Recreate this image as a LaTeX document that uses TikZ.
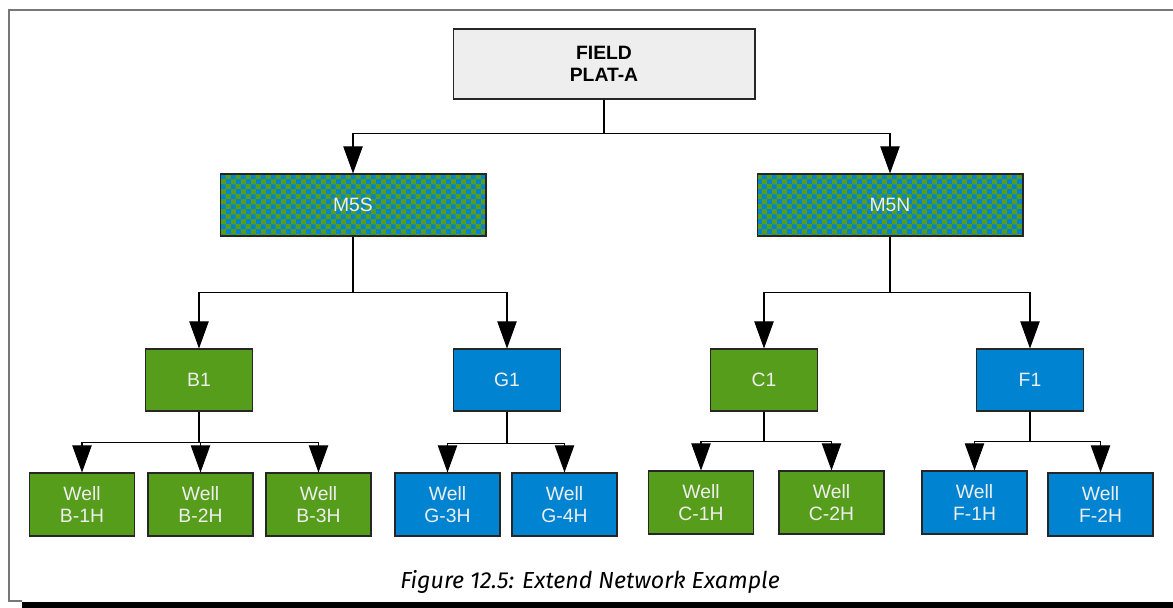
\documentclass[tikz,border=0pt]{standalone}
\usepackage{fontspec}
\usepackage{tikz}
\usetikzlibrary{arrows.meta, patterns}
\newfontfamily\boxfont{Liberation Sans}
\newfontfamily\capfont{Fira Sans}
\definecolor{wellgreen}{HTML}{579D1C}
\definecolor{wellblue}{HTML}{0084D1}
\definecolor{boxtext}{HTML}{EEEEEE}
\definecolor{fieldgray}{HTML}{EEEEEE}
\definecolor{framegray}{HTML}{777777}
\pgfdeclarepatternformonly{chequer}{\pgfpointorigin}{\pgfqpoint{5.6pt}{5.6pt}}{\pgfqpoint{5.6pt}{5.6pt}}{%
  \pgfpathrectangle{\pgfpointorigin}{\pgfqpoint{2.8pt}{2.8pt}}%
  \pgfpathrectangle{\pgfqpoint{2.8pt}{2.8pt}}{\pgfqpoint{2.8pt}{2.8pt}}%
  \pgfusepath{fill}}

\begin{document}
\begin{tikzpicture}[x=0.02cm, y=-0.02cm,
    box/.style={draw=black!85, line width=0.6pt, text=boxtext, align=center, inner sep=0pt,
                font=\boxfont\fontsize{11}{12.35}\selectfont},
    fieldbox/.style={box, fill=fieldgray, text=black, font=\boxfont\bfseries\fontsize{11}{12.35}\selectfont,
                     minimum width=6.04cm, minimum height=1.4cm},
    manifold/.style={box, preaction={fill=wellgreen}, pattern=chequer, pattern color=wellblue,
                     minimum width=5.32cm, minimum height=1.24cm},
    groupbox/.style={box, minimum width=2.14cm, minimum height=1.24cm},
    wellbox/.style={box, minimum width=2.1cm, minimum height=1.26cm},
    link/.style={black, line width=0.6pt, -{Triangle[length=15.4pt, width=11pt]}}]
                \useasboundingbox (0,0) rectangle (1173,608);
                \draw[framegray, line width=1.2pt] (1173,10) -- (9,10) -- (9,601) -- (22,601);
                \fill[black] (22,602) rectangle (1173,608);
                \node[fieldbox] (field) at (604,64) {FIELD\\PLAT-A};
                \node[manifold] (mfs) at (353,205) {M5S};
                \node[manifold] (mfn) at (890,205) {M5N};
                \node[groupbox, fill=wellgreen] (b1) at (199,380) {B1};
                \node[groupbox, fill=wellblue] (g1) at (507,380) {G1};
                \node[groupbox, fill=wellgreen] (c1) at (764,380) {C1};
                \node[groupbox, fill=wellblue] (f1) at (1030,380) {F1};
                \node[wellbox, fill=wellgreen] (wb1) at (82,504.5) {Well\\B-1H};
                \node[wellbox, fill=wellgreen] (wb2) at (200.5,504.5) {Well\\B-2H};
                \node[wellbox, fill=wellgreen] (wb3) at (318.5,504.5) {Well\\B-3H};
                \node[wellbox, fill=wellblue] (wg3) at (447.5,504.5) {Well\\G-3H};
                \node[wellbox, fill=wellblue] (wg4) at (564.5,504.5) {Well\\G-4H};
                \node[wellbox, fill=wellgreen] (wc1) at (701,502.5) {Well\\C-1H};
                \node[wellbox, fill=wellgreen] (wc2) at (831.5,502.5) {Well\\C-2H};
                \node[wellbox, fill=wellblue] (wf1) at (974.5,502.5) {Well\\F-1H};
                \node[wellbox, fill=wellblue] (wf2) at (1100.5,504.5) {Well\\F-2H};
                \draw[link] (field.south) -- ++(0,34) -| (mfs.north);
                \draw[link] (field.south) -- ++(0,34) -| (mfn.north);
                \draw[link] (mfs.south) -- ++(0,56) -| (b1.north);
                \draw[link] (mfs.south) -- ++(0,56) -| (g1.north);
                \draw[link] (mfn.south) -- ++(0,56) -| (c1.north);
                \draw[link] (mfn.south) -- ++(0,56) -| (f1.north);
                \draw[link] (b1.south) -- ++(0,31) -| (wb1.north);
                \draw[link] (b1.south) -- ++(0,31) -| (wb2.north);
                \draw[link] (b1.south) -- ++(0,31) -| (wb3.north);
                \draw[link] (g1.south) -- ++(0,32) -| (wg3.north);
                \draw[link] (g1.south) -- ++(0,32) -| (wg4.north);
                \draw[link] (c1.south) -- ++(0,30) -| (wc1.north);
                \draw[link] (c1.south) -- ++(0,30) -| (wc2.north);
                \draw[link] (f1.south) -- ++(0,30) -| (wf1.north);
                \draw[link] (f1.south) -- ++(0,30) -| (wf2.north);
                \node[anchor=base, inner sep=0pt, font=\capfont\itshape\fontsize{13.2}{15}\selectfont] (caption) at (590,588) {Figure 12.5: Extend Network Example};
            \end{tikzpicture}
\end{document}
